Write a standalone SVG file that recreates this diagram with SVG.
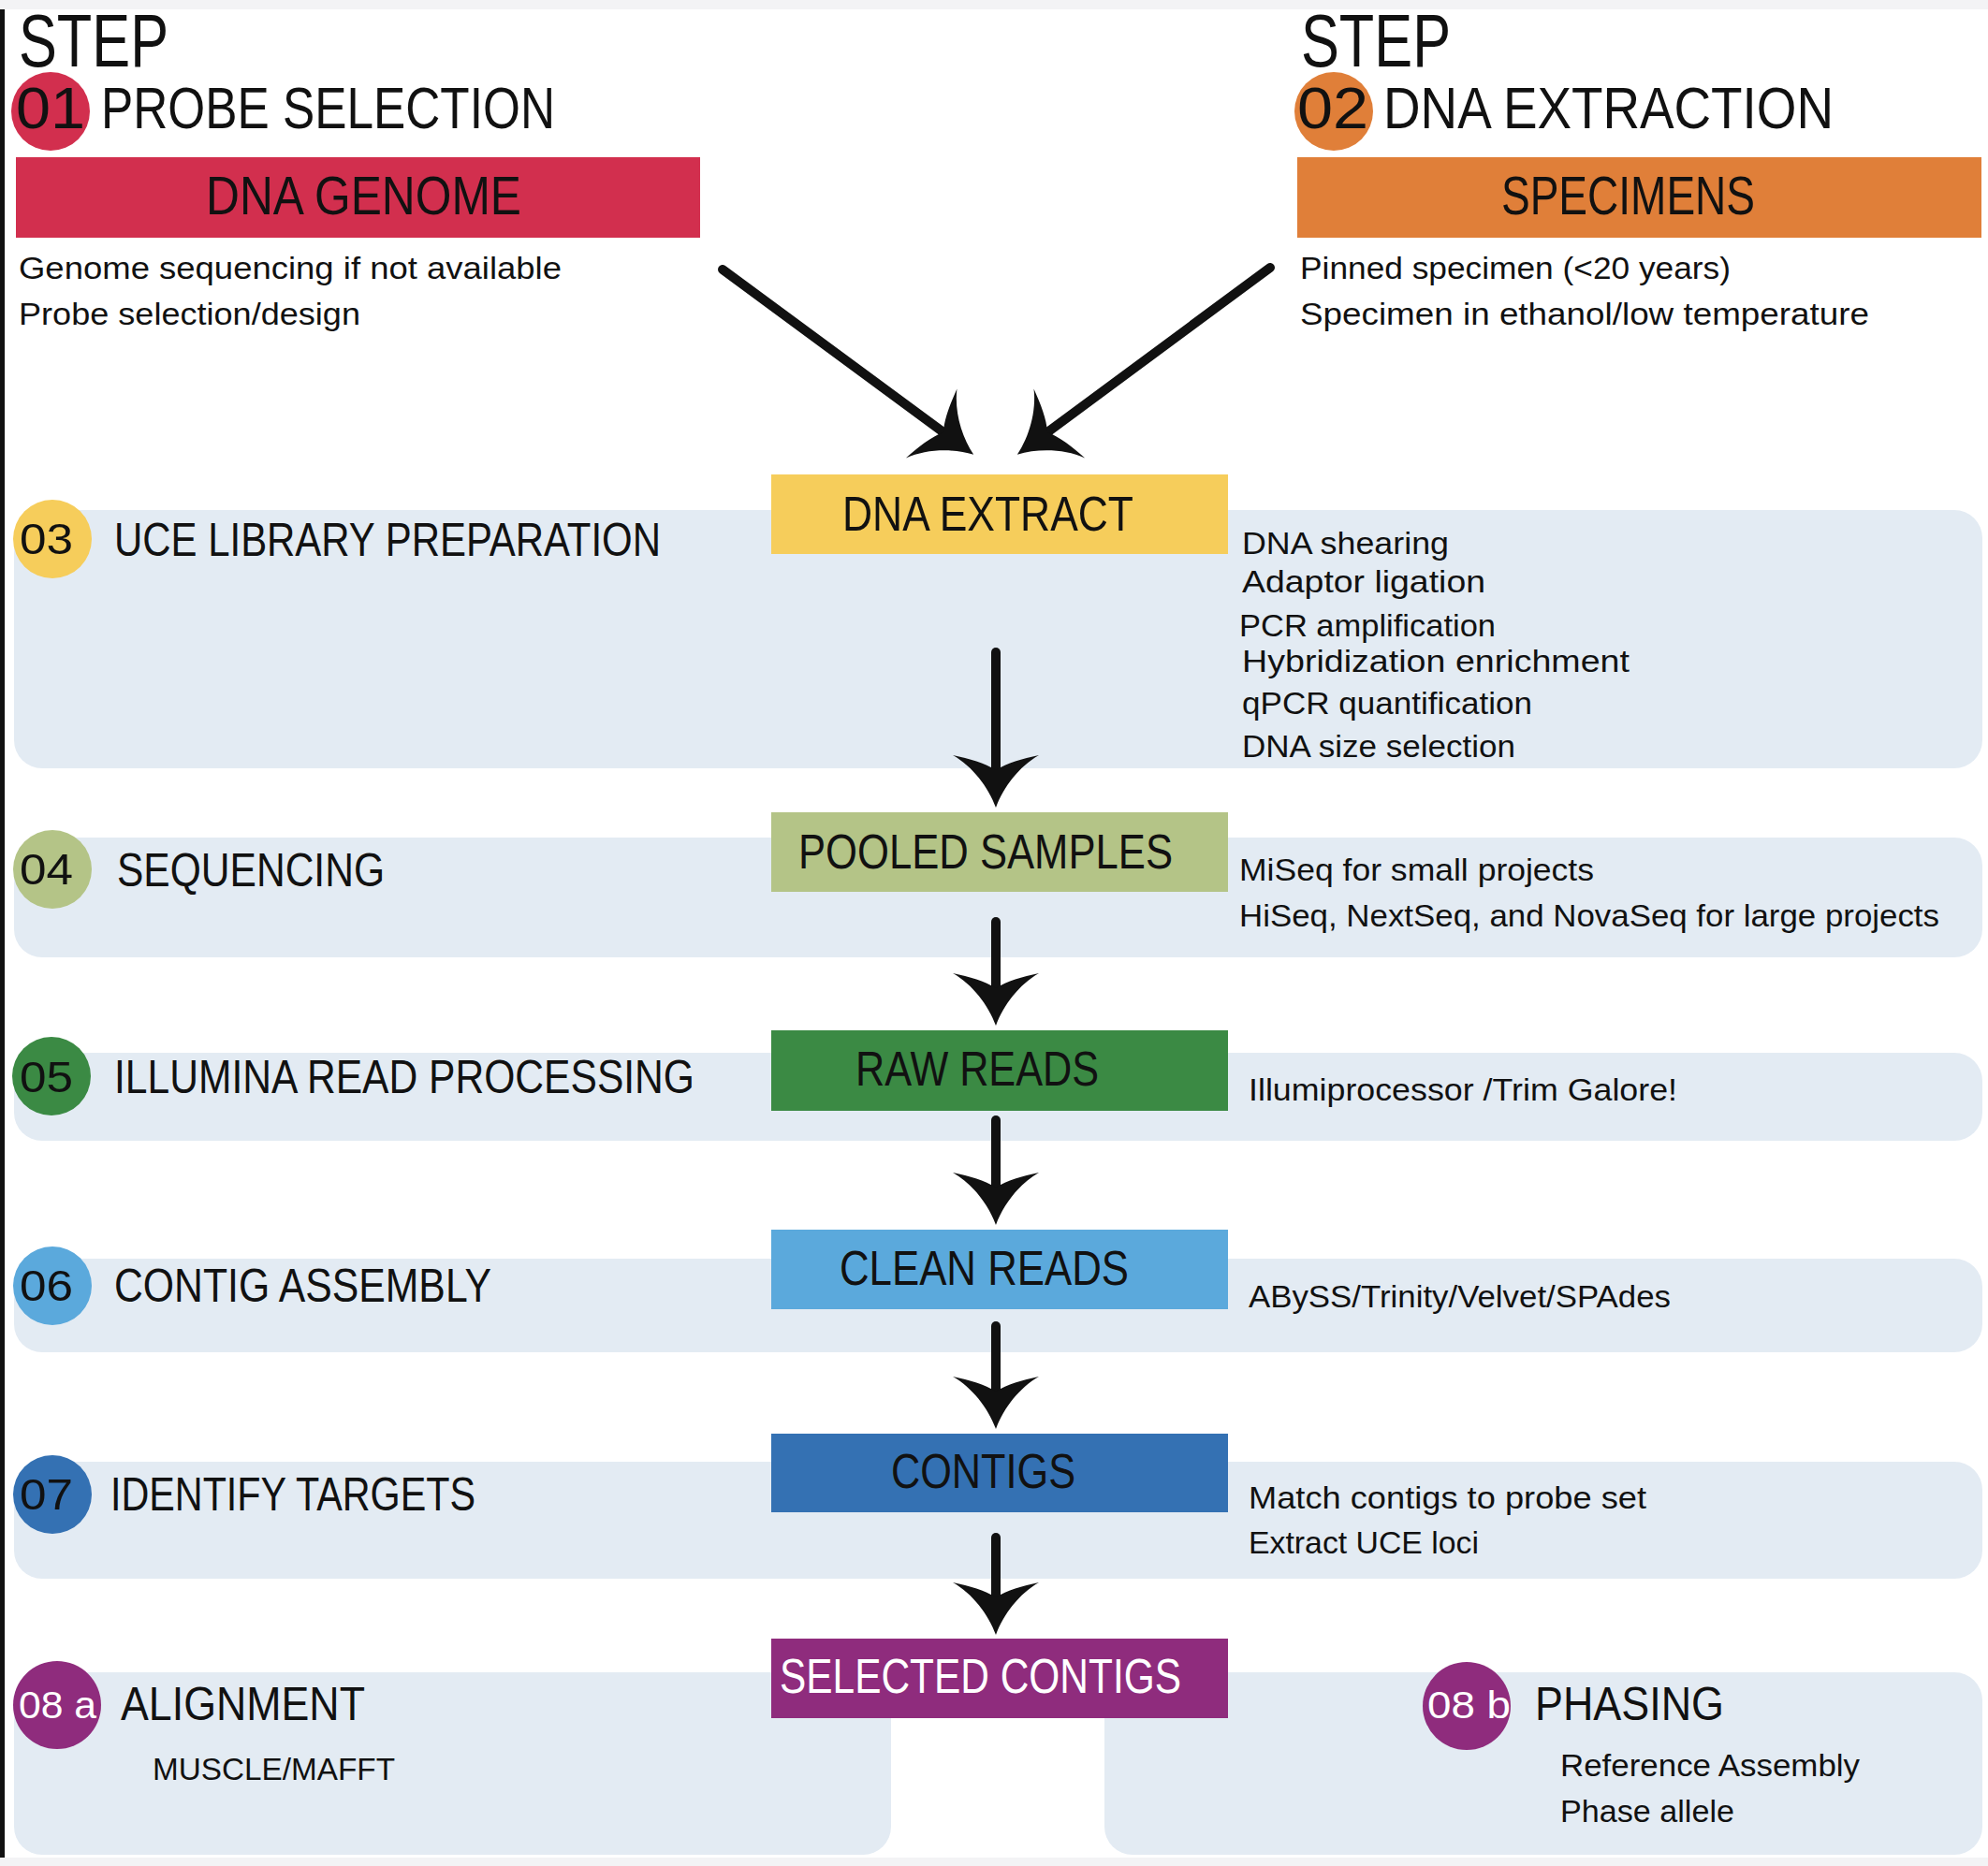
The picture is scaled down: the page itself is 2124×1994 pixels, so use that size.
<svg xmlns="http://www.w3.org/2000/svg" width="2124" height="1994" viewBox="0 0 2124 1994">
<style>
text{font-family:"Liberation Sans",Arial,sans-serif;fill:#111;}
.step{font-size:80px;}
.h1{font-size:63px;}
.bx{font-size:52px;}
.bxg{font-size:57px;}
.lbl{font-size:50px;}
.num{font-size:46px;}
.n8{font-size:40px;fill:#fff;}
.d{font-size:33px;}
.band{fill:#e3ebf3;}
.conn{stroke:#111;stroke-width:10;stroke-linecap:round;fill:none;}
</style>
<defs>
<marker id="ah" viewBox="-20 -50 64 100" markerWidth="64" markerHeight="100" refX="0" refY="0" orient="auto" markerUnits="userSpaceOnUse" overflow="visible">
<path d="M40,0 C18,-8 -4,-25 -16,-46 C-12,-28 -8,-12 0,0 C-8,12 -12,28 -16,46 C-4,25 18,8 40,0 Z" fill="#111"/>
</marker>
</defs>
<rect x="0" y="0" width="2124" height="1994" fill="#ffffff"/>
<rect x="0" y="0" width="2124" height="10" fill="#f3f3f5"/>
<rect x="0" y="1985" width="2124" height="9" fill="#f3f3f5"/>
<rect x="0" y="10" width="5" height="1975" fill="#111"/>

<g id="bands">
<rect class="band" x="15" y="545" width="2103" height="276" rx="30"/>
<rect class="band" x="15" y="895" width="2103" height="128" rx="30"/>
<rect class="band" x="15" y="1125" width="2103" height="94" rx="30"/>
<rect class="band" x="15" y="1345" width="2103" height="100" rx="30"/>
<rect class="band" x="15" y="1562" width="2103" height="125" rx="30"/>
<rect class="band" x="15" y="1787" width="937" height="195" rx="30"/>
<rect class="band" x="1180" y="1787" width="938" height="195" rx="30"/>
</g>

<g id="step01">
<text class="step" x="20" y="71" textLength="160" lengthAdjust="spacingAndGlyphs">STEP</text>
<circle cx="54" cy="119" r="42" fill="#d22f4e"/>
<text class="h1" x="17" y="137" textLength="74" lengthAdjust="spacingAndGlyphs">01</text>
<text class="h1" x="108" y="137" textLength="485" lengthAdjust="spacingAndGlyphs">PROBE SELECTION</text>
</g>
<g id="dna-genome">
<rect x="17" y="168" width="731" height="86" fill="#d22f4e"/>
<text class="bxg" x="220" y="229" textLength="337" lengthAdjust="spacingAndGlyphs">DNA GENOME</text>
<text class="d" x="20" y="298" textLength="580" lengthAdjust="spacingAndGlyphs">Genome sequencing if not available</text>
<text class="d" x="20" y="347" textLength="365" lengthAdjust="spacingAndGlyphs">Probe selection/design</text>
</g>

<g id="step02">
<text class="step" x="1390" y="71" textLength="160" lengthAdjust="spacingAndGlyphs">STEP</text>
<circle cx="1425" cy="119" r="42" fill="#e07f39"/>
<text class="h1" x="1386" y="137" textLength="76" lengthAdjust="spacingAndGlyphs">02</text>
<text class="h1" x="1478" y="137" textLength="481" lengthAdjust="spacingAndGlyphs">DNA EXTRACTION</text>
</g>
<g id="specimens">
<rect x="1386" y="168" width="731" height="86" fill="#e07f39"/>
<text class="bxg" x="1604" y="229" textLength="271" lengthAdjust="spacingAndGlyphs">SPECIMENS</text>
<text class="d" x="1389" y="298" textLength="460" lengthAdjust="spacingAndGlyphs">Pinned specimen (&lt;20 years)</text>
<text class="d" x="1389" y="347" textLength="608" lengthAdjust="spacingAndGlyphs">Specimen in ethanol/low temperature</text>
</g>

<g id="step03">
<circle cx="56" cy="576" r="42" fill="#f6cd5b"/>
<text class="num" x="21" y="592" textLength="57" lengthAdjust="spacingAndGlyphs">03</text>
<text class="lbl" x="122" y="594" textLength="584" lengthAdjust="spacingAndGlyphs">UCE LIBRARY PREPARATION</text>
<text class="d" x="1327" y="592" textLength="221" lengthAdjust="spacingAndGlyphs">DNA shearing</text>
<text class="d" x="1327" y="633" textLength="260" lengthAdjust="spacingAndGlyphs">Adaptor ligation</text>
<text class="d" x="1324" y="680" textLength="274" lengthAdjust="spacingAndGlyphs">PCR amplification</text>
<text class="d" x="1327" y="718" textLength="414" lengthAdjust="spacingAndGlyphs">Hybridization enrichment</text>
<text class="d" x="1327" y="763" textLength="310" lengthAdjust="spacingAndGlyphs">qPCR quantification</text>
<text class="d" x="1327" y="809" textLength="292" lengthAdjust="spacingAndGlyphs">DNA size selection</text>
</g>
<g id="dna-extract">
<rect x="824" y="507" width="488" height="85" fill="#f6cd5b"/>
<text class="bx" x="900" y="567" textLength="311" lengthAdjust="spacingAndGlyphs">DNA EXTRACT</text>
</g>

<g id="step04">
<circle cx="56" cy="929" r="42" fill="#b4c487"/>
<text class="num" x="21" y="945" textLength="57" lengthAdjust="spacingAndGlyphs">04</text>
<text class="lbl" x="125" y="947" textLength="286" lengthAdjust="spacingAndGlyphs">SEQUENCING</text>
<text class="d" x="1324" y="941" textLength="379" lengthAdjust="spacingAndGlyphs">MiSeq for small projects</text>
<text class="d" x="1324" y="990" textLength="748" lengthAdjust="spacingAndGlyphs">HiSeq, NextSeq, and NovaSeq for large projects</text>
</g>
<g id="pooled-samples">
<rect x="824" y="868" width="488" height="85" fill="#b4c487"/>
<text class="bx" x="853" y="928" textLength="400" lengthAdjust="spacingAndGlyphs">POOLED SAMPLES</text>
</g>

<g id="step05">
<circle cx="55" cy="1150" r="42" fill="#3b8a44"/>
<text class="num" x="21" y="1167" textLength="57" lengthAdjust="spacingAndGlyphs">05</text>
<text class="lbl" x="122" y="1168" textLength="620" lengthAdjust="spacingAndGlyphs">ILLUMINA READ PROCESSING</text>
<text class="d" x="1334" y="1176" textLength="458" lengthAdjust="spacingAndGlyphs">Illumiprocessor /Trim Galore!</text>
</g>
<g id="raw-reads">
<rect x="824" y="1101" width="488" height="86" fill="#3b8a44"/>
<text class="bx" x="914" y="1160" textLength="260" lengthAdjust="spacingAndGlyphs">RAW READS</text>
</g>

<g id="step06">
<circle cx="56" cy="1374" r="42" fill="#5ba9dc"/>
<text class="num" x="21" y="1390" textLength="57" lengthAdjust="spacingAndGlyphs">06</text>
<text class="lbl" x="122" y="1391" textLength="403" lengthAdjust="spacingAndGlyphs">CONTIG ASSEMBLY</text>
<text class="d" x="1334" y="1397" textLength="451" lengthAdjust="spacingAndGlyphs">ABySS/Trinity/Velvet/SPAdes</text>
</g>
<g id="clean-reads">
<rect x="824" y="1314" width="488" height="85" fill="#5ba9dc"/>
<text class="bx" x="897" y="1373" textLength="309" lengthAdjust="spacingAndGlyphs">CLEAN READS</text>
</g>

<g id="step07">
<circle cx="56" cy="1597" r="42" fill="#3471b3"/>
<text class="num" x="21" y="1613" textLength="57" lengthAdjust="spacingAndGlyphs">07</text>
<text class="lbl" x="118" y="1614" textLength="390" lengthAdjust="spacingAndGlyphs">IDENTIFY TARGETS</text>
<text class="d" x="1334" y="1612" textLength="425" lengthAdjust="spacingAndGlyphs">Match contigs to probe set</text>
<text class="d" x="1334" y="1660" textLength="246" lengthAdjust="spacingAndGlyphs">Extract UCE loci</text>
</g>
<g id="contigs">
<rect x="824" y="1532" width="488" height="84" fill="#3471b3"/>
<text class="bx" x="952" y="1590" textLength="197" lengthAdjust="spacingAndGlyphs">CONTIGS</text>
</g>

<g id="step08a">
<circle cx="61" cy="1822" r="47" fill="#8f2c7d"/>
<text class="n8" x="20" y="1836" textLength="83" lengthAdjust="spacingAndGlyphs">08 a</text>
<text class="lbl" x="129" y="1838" textLength="261" lengthAdjust="spacingAndGlyphs">ALIGNMENT</text>
<text class="d" x="163" y="1902" textLength="259" lengthAdjust="spacingAndGlyphs">MUSCLE/MAFFT</text>
</g>
<g id="step08b">
<circle cx="1567" cy="1823" r="47" fill="#8f2c7d"/>
<text class="n8" x="1525" y="1836" textLength="89" lengthAdjust="spacingAndGlyphs">08 b</text>
<text class="lbl" x="1640" y="1838" textLength="202" lengthAdjust="spacingAndGlyphs">PHASING</text>
<text class="d" x="1667" y="1898" textLength="320" lengthAdjust="spacingAndGlyphs">Reference Assembly</text>
<text class="d" x="1667" y="1947" textLength="186" lengthAdjust="spacingAndGlyphs">Phase allele</text>
</g>
<g id="selected-contigs">
<rect x="824" y="1751" width="488" height="85" fill="#8f2c7d"/>
<text class="bx" x="833" y="1809" textLength="429" lengthAdjust="spacingAndGlyphs" style="fill:#fff">SELECTED CONTIGS</text>
</g>

<g id="connectors">
<line class="conn" x1="772" y1="288" x2="1008" y2="462" marker-end="url(#ah)"/>
<line class="conn" x1="1357" y1="286" x2="1119" y2="462" marker-end="url(#ah)"/>
<line class="conn" x1="1064" y1="697" x2="1064" y2="823" marker-end="url(#ah)"/>
<line class="conn" x1="1064" y1="985" x2="1064" y2="1056" marker-end="url(#ah)"/>
<line class="conn" x1="1064" y1="1197" x2="1064" y2="1269" marker-end="url(#ah)"/>
<line class="conn" x1="1064" y1="1417" x2="1064" y2="1487" marker-end="url(#ah)"/>
<line class="conn" x1="1064" y1="1643" x2="1064" y2="1707" marker-end="url(#ah)"/>
</g>
</svg>
